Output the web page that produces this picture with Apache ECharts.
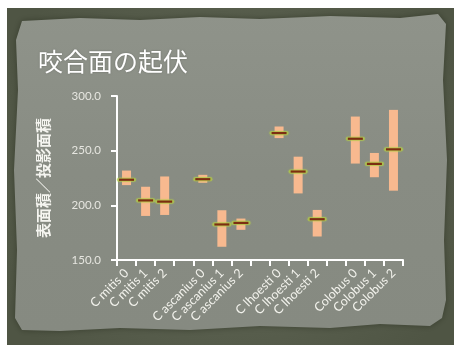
<!DOCTYPE html>
<html>
<head>
<meta charset="utf-8">
<script src="https://cdn.jsdelivr.net/npm/echarts@6/dist/echarts.min.js"></script>
<style>
  html, body { margin: 0; padding: 0; background: #ffffff; }
  #chart { width: 454px; height: 345px; }
</style>
</head>
<body>
<div id="chart"></div>
<script>
// Category slots (blank slots separate the species groups)
var categories = ['C mitis 0', 'C mitis 1', 'C mitis 2', ' ',
  'C ascanius 0', 'C ascanius 1', 'C ascanius 2', '  ',
  'C lhoesti 0', 'C lhoesti 1', 'C lhoesti 2', '   ',
  'Colobus 0', 'Colobus 1', 'Colobus 2'];

// Range top, range bottom and median for each slot
var highs   = [231.8, 217.0, 226.4, null, 227.9, 195.5, 187.9, null, 272.1, 244.5, 195.8, null, 281.2, 247.9, 287.3];
var lows    = [218.5, 190.3, 191.2, null, 220.6, 162.1, 177.6, null, 261.5, 210.9, 171.5, null, 238.2, 225.7, 213.4];
var medians = [223.4, 204.5, 203.4, null, 223.9, 182.5, 183.9, null, 266.1, 230.9, 187.3, null, 260.9, 237.9, 251.2];

var yTicks = [150, 200, 250, 300];

var rows = [];
for (var i = 0; i < categories.length; i++) {
  if (highs[i] != null) rows.push([i, lows[i], highs[i], medians[i]]);
}

var chart = echarts.init(document.getElementById('chart'), null, { renderer: 'canvas' });

function renderRange(params, api) {
  var x = api.value(0);
  var top = api.coord([x, api.value(2)]);
  var bottom = api.coord([x, api.value(1)]);
  var mid = api.coord([x, api.value(3)]);
  var bw = 9, lw = 15;
  return {
    type: 'group',
    children: [
      {
        type: 'rect',
        shape: { x: top[0] - bw / 2, y: top[1], width: bw, height: bottom[1] - top[1] },
        style: { fill: '#f8b98f' }
      },
      {
        type: 'line',
        shape: { x1: mid[0] - lw / 2, y1: mid[1], x2: mid[0] + lw / 2, y2: mid[1] },
        style: { stroke: 'rgba(175,200,70,0.7)', lineWidth: 4.2, lineCap: 'round',
          shadowBlur: 2, shadowColor: 'rgba(190,215,80,0.7)' }
      },
      {
        type: 'line',
        shape: { x1: mid[0] - lw / 2, y1: mid[1], x2: mid[0] + lw / 2, y2: mid[1] },
        style: { stroke: '#7d2d12', lineWidth: 2.2 }
      }
    ]
  };
}

var option = {
  backgroundColor: '#ffffff',
  animation: false,
  graphic: [
    { type: 'rect', z: -10, shape: { x: 7, y: 8, width: 447, height: 337 },
      style: { fill: new echarts.graphic.RadialGradient(0.5, 0.5, 0.75, [
        { offset: 0, color: '#646a59' }, { offset: 1, color: '#4f5544' }]) } },
    { type: 'polygon', z: -9,
      shape: { points: [[22, 21], [80, 18], [140, 20], [200, 17], [260, 19], [330, 16], [400, 18], [438, 14],
        [446, 24], [443, 80], [447, 160], [444, 240], [446, 300], [442, 318], [430, 326], [380, 324],
        [330, 328], [260, 326], [190, 330], [120, 328], [60, 331], [22, 330], [15, 318], [17, 250],
        [14, 170], [18, 90], [16, 40]] },
      style: { fill: new echarts.graphic.LinearGradient(0, 0, 0, 1, [
        { offset: 0, color: '#8f938a' }, { offset: 0.5, color: '#888c83' }, { offset: 1, color: '#868a81' }]),
        shadowBlur: 6, shadowColor: 'rgba(40,45,30,0.6)' } }
  ],
  title: {
    text: '咬合面の起伏',
    left: 33, top: 44,
    textStyle: { color: '#ffffff', fontSize: 25, fontWeight: 'normal',
      fontFamily: '"Noto Sans CJK JP"', textShadowColor: 'rgba(0,0,0,0.25)', textShadowBlur: 2 }
  },
  grid: { left: 117, right: 51, top: 96, bottom: 85, containLabel: false },
  xAxis: {
    type: 'category',
    data: categories,
    boundaryGap: true,
    axisLine: { show: true, lineStyle: { color: '#ffffff', width: 2 } },
    axisTick: { show: true, inside: false, length: 6, alignWithLabel: false, lineStyle: { color: '#ffffff', width: 2 } },
    axisLabel: { rotate: 45, interval: 0, margin: 11, color: '#f2f2ec', fontSize: 12.5, fontFamily: 'Lato' },
    splitLine: { show: false }
  },
  yAxis: {
    type: 'value',
    min: 150, max: 300, interval: 50,
    name: '表面積／投影面積',
    nameLocation: 'middle',
    nameGap: 66,
    nameRotate: 90,
    nameTextStyle: { color: '#f5f5f0', fontSize: 15, fontWeight: 'bold', fontFamily: '"Noto Sans CJK JP"' },
    axisLine: { show: true, lineStyle: { color: '#ffffff', width: 2 } },
    axisTick: { show: true, length: 6, lineStyle: { color: '#ffffff', width: 2 } },
    axisLabel: { color: '#e6e6e0', fontSize: 11.5, fontFamily: 'Lato', margin: 16,
      formatter: function (v) { return yTicks.indexOf(v) >= 0 ? v.toFixed(1) : ''; } },
    splitLine: { show: false }
  },
  series: [{
    type: 'custom',
    renderItem: renderRange,
    encode: { x: 0, y: [1, 2, 3] },
    data: rows
  }]
};

chart.setOption(option);
</script>
</body>
</html>
